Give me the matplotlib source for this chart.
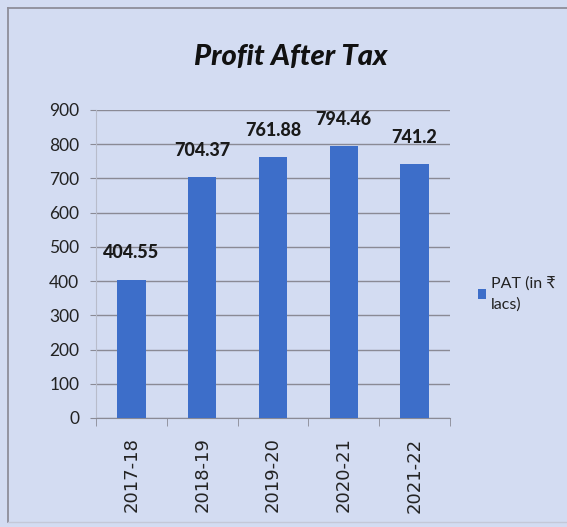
import matplotlib
matplotlib.use("Agg")
import matplotlib.pyplot as plt
from matplotlib.lines import Line2D
import numpy as np

years = ["2017-18", "2018-19", "2019-20", "2020-21", "2021-22"]
pat = [404.55, 704.37, 761.88, 794.46, 741.2]
pat_labels = ["404.55", "704.37", "761.88", "794.46", "741.2"]
yticks = [0, 100, 200, 300, 400, 500, 600, 700, 800, 900]

bg = "#d3dcf2"
bar_color = "#3d6ec9"
grid_color = "#8a8a95"
narrow = ["Lato", "DejaVu Sans"]

fig = plt.figure(figsize=(5.67, 5.27), dpi=100)
fig.patch.set_facecolor(bg)

# thin frame on left and top, faint one at bottom
fig.lines.append(Line2D([8 / 567, 8 / 567], [5 / 527, 1 - 8 / 527], transform=fig.transFigure,
                        color="#8e8e9a", linewidth=1.3))
fig.lines.append(Line2D([8 / 567, 1], [1 - 8 / 527, 1 - 8 / 527], transform=fig.transFigure,
                        color="#8e8e9a", linewidth=1.3))
fig.lines.append(Line2D([8 / 567, 1], [5 / 527, 5 / 527], transform=fig.transFigure,
                        color="#c4c8d8", linewidth=1.0))

ax = fig.add_axes([96 / 567, 1 - 418 / 527, 354 / 567, 308 / 527])
ax.set_facecolor("none")

x = np.arange(len(years))
ax.bar(x, pat, width=0.4, color=bar_color, zorder=3, label="PAT (in ₹\nlacs)")

for xi, v, lab in zip(x, pat, pat_labels):
    ax.annotate(lab, (xi, v), xytext=(0, 13), textcoords="offset points",
                ha="center", va="bottom", fontsize=13, fontweight="black",
                family=narrow, color="#1a1a1a")

ax.set_xlim(-0.5, len(years) - 0.5)
ax.set_ylim(0, 900)
ax.set_yticks(yticks)
ax.set_yticklabels([str(t) for t in yticks], family=narrow, fontsize=12.5, color="#222222")
ax.grid(axis="y", color=grid_color, linewidth=1.0, zorder=0)

ax.set_xticks(x)
ax.set_xticklabels(years, rotation=90, family="DejaVu Sans", fontsize=13, color="#222222")
ax.set_xticks(np.arange(-0.5, len(years)), minor=True)
ax.tick_params(axis="x", which="major", length=0, pad=14)
ax.tick_params(axis="x", which="minor", length=6, color=grid_color)
ax.tick_params(axis="y", length=4, color=grid_color, pad=8)

for side in ["top", "right"]:
    ax.spines[side].set_visible(False)
ax.spines["left"].set_color("#b8bccb")
ax.spines["bottom"].set_color(grid_color)

fig.text(291 / 567, 1 - 57 / 527, "Profit After Tax", ha="center", va="center",
         fontsize=21, fontweight="black", fontstyle="italic",
         family=narrow, color="#111111")

leg = fig.legend(loc="upper left", bbox_to_anchor=(464 / 567, 1 - 262 / 527),
                 frameon=False, prop={"family": narrow, "size": 11.5},
                 handlelength=0.5, handleheight=0.5, handletextpad=0.3,
                 labelspacing=0.2)
for t in leg.get_texts():
    t.set_color("#222222")
    t.set_linespacing(1.6)

fig.savefig("out.png", dpi=100, facecolor=fig.get_facecolor())
